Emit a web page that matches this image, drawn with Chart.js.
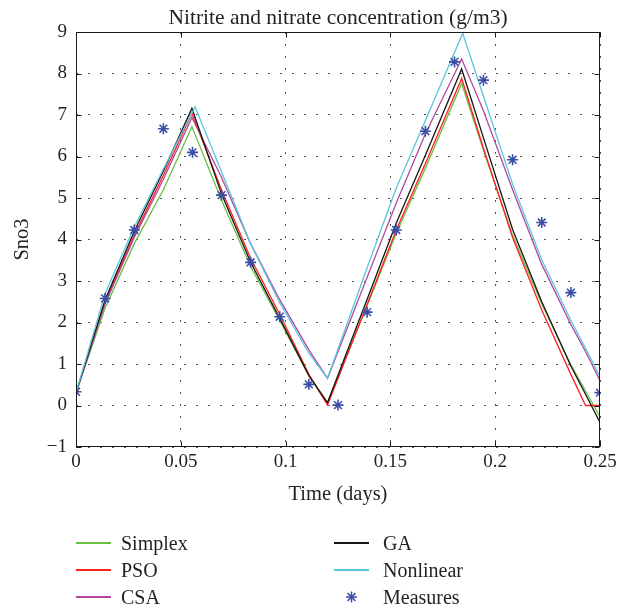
<!DOCTYPE html>
<html><head><meta charset="utf-8">
<script src="https://cdn.jsdelivr.net/npm/chart.js@4.4.1/dist/chart.umd.min.js"></script>
<style>
html,body{margin:0;padding:0;background:#fff;}
#wrap{position:relative;width:633px;height:608px;}
#c{position:absolute;left:0;top:0;}
#legend{position:absolute;left:0;top:0;width:633px;height:608px;pointer-events:none;font-family:"Liberation Serif",serif;font-size:20px;color:#231f20;}
.item{position:absolute;height:26px;display:flex;align-items:center;white-space:nowrap;transform:translateY(-50%);}
.swatch{width:35px;height:0;border-top:2px solid;}
</style></head><body>
<div id="wrap"><canvas id="c" width="633" height="608"></canvas><div id="legend"></div></div>
<script>
// ---- data ----
const chartTitle = 'Nitrite and nitrate concentration (g/m3)';
const xAxisTitle = 'Time (days)';
const yAxisTitle = 'Sno3';
const xTickLabels = ['0', '0.05', '0.1', '0.15', '0.2', '0.25'];
const yTickLabels = ['−1', '0', '1', '2', '3', '4', '5', '6', '7', '8', '9'];

const measureTime   = [0, 0.0139, 0.0278, 0.0417, 0.0556, 0.0694, 0.0833, 0.0972, 0.1111, 0.125, 0.1389, 0.1528, 0.1667, 0.1806, 0.1944, 0.2083, 0.2222, 0.2361, 0.25];
const measureValues = [0.33, 2.58, 4.23, 6.67, 6.1, 5.07, 3.45, 2.14, 0.51, 0.01, 2.25, 4.23, 6.61, 8.28, 7.84, 5.92, 4.41, 2.72, 0.31];

const modelTime     = [0, 0.0139, 0.0278, 0.0417, 0.0553, 0.0694, 0.0833, 0.0972, 0.1111, 0.12, 0.1389, 0.1528, 0.1667, 0.184, 0.1944, 0.2083, 0.2222, 0.2361, 0.2431, 0.25];
const nonlinearTime = [0, 0.0139, 0.0278, 0.0417, 0.0568, 0.0694, 0.0833, 0.0972, 0.1111, 0.12, 0.1389, 0.1528, 0.1667, 0.1845, 0.1944, 0.2083, 0.2222, 0.2361, 0.2431, 0.25];

const simplexValues   = [0.3, 2.35, 3.9, 5.2, 6.72, 4.95, 3.35, 2.05, 0.72, 0.05, 2.41, 4.15, 5.72, 7.76, 6.15, 4.1, 2.45, 0.98, 0.35, -0.27];
const psoValues       = [0.3, 2.5, 4.1, 5.55, 7.04, 5.2, 3.55, 2.2, 0.75, 0.01, 2.44, 4.23, 5.83, 7.88, 6.2, 4.05, 2.3, 0.75, 0.0, 0.0];
const csaValues       = [0.3, 2.45, 4.05, 5.45, 6.94, 5.5, 3.9, 2.55, 1.34, 0.655, 3.09, 4.88, 6.55, 8.35, 7.1, 5.2, 3.4, 1.95, 1.3, 0.6];
const gaValues        = [0.3, 2.55, 4.2, 5.65, 7.16, 5.1, 3.45, 2.1, 0.72, 0.07, 2.56, 4.4, 6.03, 8.11, 6.45, 4.24, 2.5, 0.95, 0.27, -0.41];
const nonlinearValues = [0.3, 2.7, 4.3, 5.7, 7.2, 5.63, 3.9, 2.48, 1.26, 0.655, 3.32, 5.24, 6.87, 8.97, 7.45, 5.33, 3.51, 2.05, 1.38, 0.69];

// ---- build chart ----
const pts = (t, v) => t.map((x, i) => ({x: x, y: v[i]}));
const FONT = '"Liberation Serif", "Times New Roman", serif';
const TXT = '#231f20';

function lineSet(label, t, v, color, order) {
  return {type: 'line', label, data: pts(t, v), borderColor: color, backgroundColor: color,
          borderWidth: 1.3, pointRadius: 0, tension: 0, fill: false, order, xAxisID: 'x', yAxisID: 'y'};
}

const datasets = [
  {type: 'scatter', label: 'Measures', data: pts(measureTime, measureValues), showLine: false,
   pointStyle: 'star', pointRadius: 5.5, pointBorderWidth: 1.6, borderColor: '#3b4ea6', backgroundColor: '#3b4ea6',
   order: 0, xAxisID: 'x', yAxisID: 'y'},
  lineSet('Simplex', modelTime, simplexValues, '#6cbf45', 5),
  lineSet('PSO', modelTime, psoValues, '#ff1f1f', 4),
  lineSet('CSA', modelTime, csaValues, '#b0489e', 3),
  lineSet('GA', modelTime, gaValues, '#151515', 2),
  lineSet('Nonlinear', nonlinearTime, nonlinearValues, '#5ac6db', 1)
];

const framePlugin = {
  id: 'frame',
  afterDraw(chart) {
    const {ctx, chartArea: a, scales: {x, y}} = chart;
    ctx.save();
    ctx.strokeStyle = '#1a1a1a';
    ctx.lineWidth = 1;
    const L = Math.round(a.left) + 0.5, R = Math.round(a.right) - 0.5;
    const T = Math.round(a.top) + 0.5, B = Math.round(a.bottom) - 0.5;
    ctx.strokeRect(L, T, R - L, B - T);
    ctx.beginPath();
    x.ticks.forEach(tk => {
      const px = Math.round(x.getPixelForValue(tk.value)) + 0.5;
      ctx.moveTo(px, T); ctx.lineTo(px, T + 5);
      ctx.moveTo(px, B); ctx.lineTo(px, B - 5);
    });
    y.ticks.forEach(tk => {
      const py = Math.round(y.getPixelForValue(tk.value)) + 0.5;
      ctx.moveTo(L, py); ctx.lineTo(L + 5, py);
      ctx.moveTo(R, py); ctx.lineTo(R - 5, py);
    });
    ctx.stroke();
    ctx.restore();
  }
};

const chart = new Chart(document.getElementById('c'), {
  data: {datasets},
  options: {
    responsive: false,
    animation: false,
    layout: {padding: {left: 0, right: 33, top: 0, bottom: 101}},
    plugins: {legend: {display: false}, tooltip: {enabled: false}, title: {display: false}},
    scales: {
      x: {
        type: 'linear', position: 'bottom', min: 0, max: 0.25,
        afterFit: s => { s.height = 60; },
        afterBuildTicks: s => { s.ticks = xTickLabels.map(l => ({value: parseFloat(l)})); },
        ticks: {padding: 4, color: TXT, font: {family: FONT, size: 19},
                callback: (v, i) => xTickLabels[i], maxRotation: 0, autoSkip: false},
        grid: {color: '#555', lineWidth: 1, drawTicks: false},
        border: {display: false, dash: [2, 10]},
        title: {display: true, text: xAxisTitle, color: TXT, font: {family: FONT, size: 20.5}, padding: {top: 0, bottom: 0}}
      },
      xTop: {
        type: 'linear', position: 'top', min: 0, max: 0.25,
        afterFit: s => { s.height = 32; },
        ticks: {display: false},
        grid: {display: false, drawTicks: false},
        border: {display: false},
        title: {display: true, text: chartTitle, color: TXT, font: {family: FONT, size: 21.5}, padding: {top: 5, bottom: 0}}
      },
      y: {
        type: 'linear', position: 'left', min: -1, max: 9,
        afterFit: s => { s.width = 76; },
        afterBuildTicks: s => { s.ticks = yTickLabels.map((l, i) => ({value: i - 1})); },
        ticks: {padding: 9, color: TXT, font: {family: FONT, size: 19},
                callback: (v, i) => yTickLabels[i], autoSkip: false},
        grid: {color: '#555', lineWidth: 1, drawTicks: false},
        border: {display: false, dash: [2, 10]},
        title: {display: true, text: yAxisTitle, color: TXT, font: {family: FONT, size: 20.5}, padding: {top: 10, bottom: 0}}
      }
    }
  },
  plugins: [framePlugin]
});

// ---- HTML legend built from the chart's datasets ----
const legendColumns = [['Simplex', 'PSO', 'CSA'], ['GA', 'Nonlinear', 'Measures']];
const colX = [76, 334];
const rowY = [543, 570, 597];
const legend = document.getElementById('legend');
legendColumns.forEach((col, ci) => {
  col.forEach((name, ri) => {
    const ds = chart.data.datasets.find(d => d.label === name);
    const item = document.createElement('div');
    item.className = 'item';
    item.style.left = colX[ci] + 'px';
    item.style.top = rowY[ri] + 'px';
    let sw;
    if (ds.pointStyle === 'star') {
      sw = document.createElementNS('http://www.w3.org/2000/svg', 'svg');
      sw.setAttribute('width', '35'); sw.setAttribute('height', '14');
      const c = ds.borderColor, cx = 17.5, cy = 7, r = 5.5, d = r * Math.SQRT1_2;
      sw.innerHTML = `<g stroke="${c}" stroke-width="1.5">
        <line x1="${cx - r}" y1="${cy}" x2="${cx + r}" y2="${cy}"/><line x1="${cx}" y1="${cy - r}" x2="${cx}" y2="${cy + r}"/>
        <line x1="${cx - d}" y1="${cy - d}" x2="${cx + d}" y2="${cy + d}"/><line x1="${cx - d}" y1="${cy + d}" x2="${cx + d}" y2="${cy - d}"/></g>`;
    } else {
      sw = document.createElement('div');
      sw.className = 'swatch';
      sw.style.borderTopColor = ds.borderColor;
    }
    const tx = document.createElement('span');
    tx.textContent = name;
    tx.style.marginLeft = (ci === 0 ? 10 : 14) + 'px';
    item.appendChild(sw); item.appendChild(tx);
    legend.appendChild(item);
  });
});
</script>
</body></html>
